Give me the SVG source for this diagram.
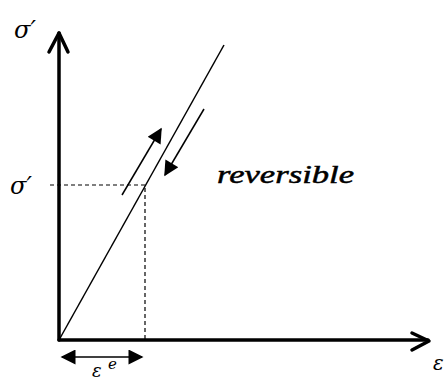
<svg xmlns="http://www.w3.org/2000/svg" width="446" height="381" viewBox="0 0 446 381">
<style>
.axis{stroke:#000;stroke-width:3.5;fill:none;stroke-linecap:round;stroke-linejoin:round}
.thin{stroke:#000;stroke-width:1.5;fill:none}
.dash{stroke:#000;stroke-width:1.2;fill:none;stroke-dasharray:4 3}
.lbl{font-family:"DejaVu Serif","Liberation Serif",serif;font-style:italic;fill:#000}
.rev{font-family:"Liberation Serif",serif;font-style:italic;fill:#000;stroke:#000;stroke-width:0.5}
</style>
<defs>
<marker id="fb" viewBox="0 0 10 10" refX="9" refY="5" markerWidth="17" markerHeight="15" markerUnits="userSpaceOnUse" orient="auto-start-reverse">
<path d="M0,0 L10,5 L0,10 z" fill="#000"/>
</marker>
</defs>
<g id="axes">
<path class="axis" d="M59,340 V33"/>
<path class="axis" d="M49,52 L59,33 L68,52"/>
<path class="axis" d="M59,340 H428"/>
<path class="axis" d="M412,333 L429,341 L412,350"/>
</g>
<g id="connectors">
<path class="thin" d="M59,340 L224,45"/>
<path class="dash" d="M50,185 H145 V340"/>
<path class="thin" d="M122,195 L161,129" marker-end="url(#fb)"/>
<path class="thin" d="M204,109 L165,175" marker-end="url(#fb)"/>
<path class="thin" d="M62,357 H142" marker-start="url(#fb)" marker-end="url(#fb)"/>
</g>
<g id="labels">
<text class="lbl" x="14" y="38" font-size="24">σ′</text>
<text class="lbl" x="10" y="194" font-size="24">σ′</text>
<text class="rev" x="217" y="183" font-size="26" textLength="137" lengthAdjust="spacingAndGlyphs">reversible</text>
<text class="lbl" x="433" y="370" font-size="20">ε</text>
<text class="lbl" x="92" y="377" font-size="18">ε</text>
<text class="lbl" x="108" y="369" font-size="15">e</text>
</g>
</svg>
